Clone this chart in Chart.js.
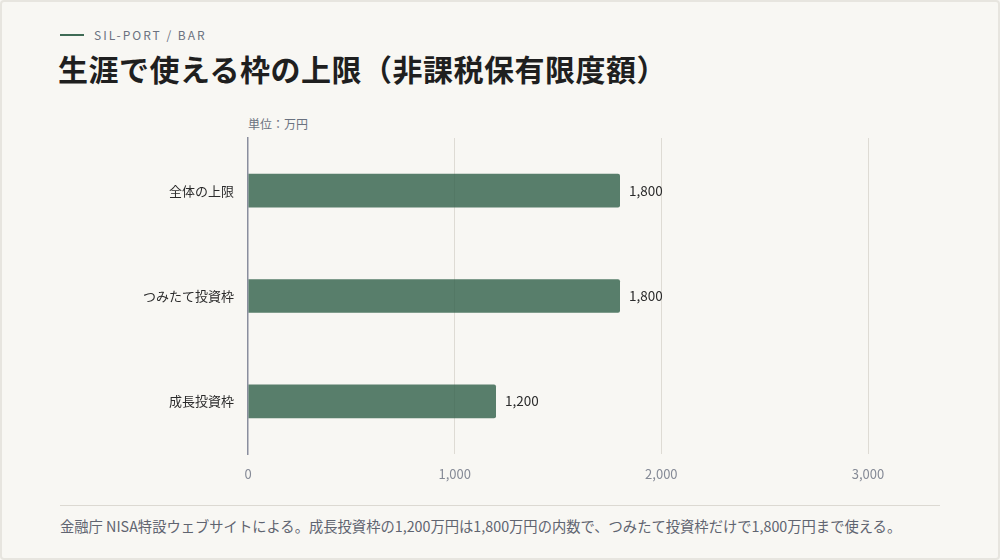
<!DOCTYPE html>
<html lang="ja">
<head>
<meta charset="utf-8">
<script src="https://cdn.jsdelivr.net/npm/chart.js@4.4.1/dist/chart.umd.min.js"></script>
<style>
  html, body { margin: 0; padding: 0; }
  body {
    width: 1000px; height: 560px; overflow: hidden;
    background: #f8f7f3;
    font-family: "Noto Sans CJK JP", "Noto Sans", sans-serif;
    position: relative;
  }
  .frame {
    position: absolute; left: 0; top: 0; width: 996px; height: 556px;
    border: 2px solid #e7e5df; border-radius: 4px;
  }
  .kicker {
    position: absolute; left: 60px; top: 26px;
    font-size: 12px; letter-spacing: 2px; color: #6b7280;
    display: flex; align-items: center;
  }
  .kicker::before {
    content: ""; display: inline-block; width: 24px; height: 2px;
    background: #3f6b55; margin-right: 10px;
  }
  h1 {
    position: absolute; left: 58px; top: 46px; margin: 0;
    font-size: 30px; font-weight: 700; color: #1f1f1f; letter-spacing: 0.5px;
  }
  .unit {
    position: absolute; left: 248px; top: 115px;
    font-size: 12px; color: #6b7280;
  }
  .chart-box {
    position: absolute; left: 60px; top: 110px; width: 880px; height: 380px;
  }
  .rule {
    position: absolute; left: 60px; top: 505px; width: 880px; height: 1px;
    background: #dcd9d2;
  }
  .note {
    position: absolute; left: 60px; top: 515px;
    font-size: 14.3px; color: #5f6470;
  }
</style>
</head>
<body>
<div class="frame"></div>
<div class="kicker">SIL-PORT / BAR</div>
<h1>生涯で使える枠の上限（非課税保有限度額）</h1>
<div class="unit">単位：万円</div>
<div class="chart-box"><canvas id="chart"></canvas></div>
<div class="rule"></div>
<div class="note">金融庁 NISA特設ウェブサイトによる。成長投資枠の1,200万円は1,800万円の内数で、つみたて投資枠だけで1,800万円まで使える。</div>

<script>
const categories = ['全体の上限', 'つみたて投資枠', '成長投資枠'];
const limits = [1800, 1800, 1200];
const xTicks = [0, 1000, 2000, 3000];

const fontFamily = '"Noto Sans CJK JP", "Noto Sans", sans-serif';

// value labels at the end of each bar
const valueLabels = {
    id: 'valueLabels',
    afterDatasetsDraw(chart) {
        const ctx = chart.ctx;
        const meta = chart.getDatasetMeta(0);
        ctx.save();
        ctx.font = '13.5px ' + fontFamily;
        ctx.fillStyle = '#2b2b2b';
        ctx.textBaseline = 'middle';
        meta.data.forEach(function (bar, i) {
            ctx.fillText(limits[i].toLocaleString('en-US'), bar.x + 9, bar.y);
        });
        ctx.restore();
    }
};

new Chart(document.getElementById('chart'), {
    type: 'bar',
    data: {
        labels: categories,
        datasets: [{
            data: limits,
            backgroundColor: 'rgba(47, 95, 72, 0.8)',
            borderRadius: 2,
            borderSkipped: 'start',
            categoryPercentage: 0.8,
            barPercentage: 0.4
        }]
    },
    options: {
        indexAxis: 'y',
        responsive: true,
        maintainAspectRatio: false,
        animation: false,
        layout: { padding: { top: 28, right: 72, left: 0, bottom: 0 } },
        plugins: {
            legend: { display: false },
            tooltip: { enabled: false }
        },
        scales: {
            x: {
                min: 0,
                max: 3000,
                afterBuildTicks(scale) {
                    scale.ticks = xTicks.map(v => ({ value: v }));
                },
                afterFit(scale) { scale.height = 36; },
                grid: {
                    color: ctx => ctx.tick && ctx.tick.value === 0 ? 'rgba(0,0,0,0)' : '#dedbd4',
                    lineWidth: 1,
                    drawTicks: false
                },
                border: { display: false },
                ticks: {
                    padding: 12,
                    color: '#858a96',
                    font: { family: fontFamily, size: 13 },
                    callback: v => v.toLocaleString('en-US')
                }
            },
            y: {
                afterFit(scale) { scale.width = 188; },
                grid: { display: false, drawTicks: false },
                border: { display: true, color: '#8a8e9e', width: 1.5 },
                ticks: {
                    padding: 14,
                    color: '#2b2b2b',
                    font: { family: fontFamily, size: 13 }
                }
            }
        }
    },
    plugins: [valueLabels]
});
</script>
</body>
</html>
